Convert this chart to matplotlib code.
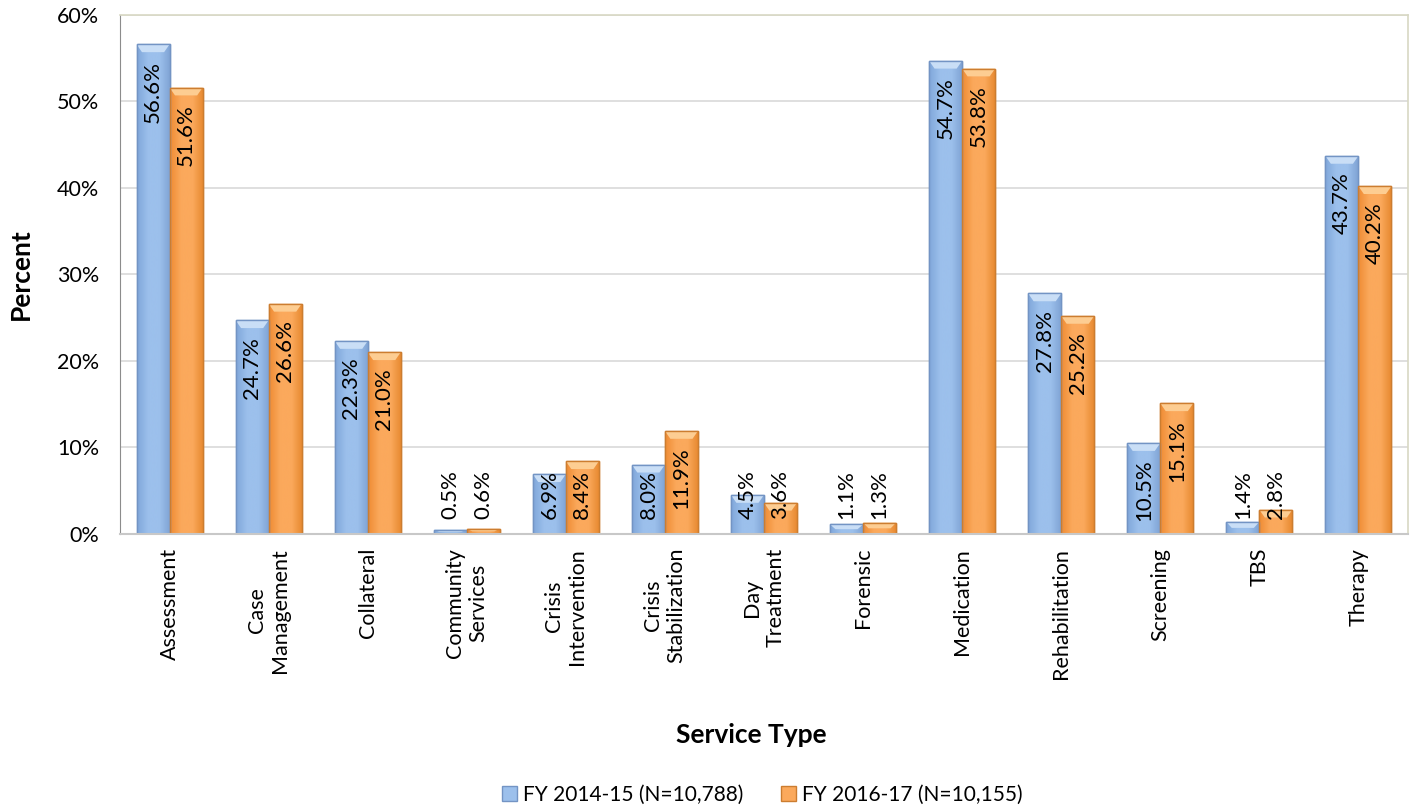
import numpy as np
import matplotlib
matplotlib.use("Agg")
import matplotlib.pyplot as plt
from matplotlib.colors import LinearSegmentedColormap
from matplotlib.patches import Polygon, Patch

plt.rcParams['font.family'] = ['Lato', 'DejaVu Sans']

# service usage by type, two fiscal years
categories = ['Assessment', 'Case\nManagement', 'Collateral', 'Community\nServices',
              'Crisis\nIntervention', 'Crisis\nStabilization', 'Day\nTreatment',
              'Forensic', 'Medication', 'Rehabilitation', 'Screening', 'TBS', 'Therapy']
fy1415 = [56.6, 24.7, 22.3, 0.5, 6.9, 8.0, 4.5, 1.1, 54.7, 27.8, 10.5, 1.4, 43.7]
fy1617 = [51.6, 26.6, 21.0, 0.6, 8.4, 11.9, 3.6, 1.3, 53.8, 25.2, 15.1, 2.8, 40.2]
series_names = ['FY 2014-15 (N=10,788)', 'FY 2016-17 (N=10,155)']
yticks = [0, 10, 20, 30, 40, 50, 60]

# colours: (left edge, centre, right edge, outline, bevel)
blue = ('#80a7da', '#9cc0ec', '#7ea2d3', '#7394c4', '#c9def6')
orange = ('#ef8c34', '#fba95c', '#e6882e', '#cc7d30', '#fdcd92')

fig = plt.figure(figsize=(14.17, 8.09), dpi=100)
ax = fig.add_axes([0.0847, 0.34, 0.9089, 0.6415])

width = 1 / 3
x = np.arange(len(categories))


def fancy_bars(xs, vals, style):
    cmap = LinearSegmentedColormap.from_list('g', [style[0], style[1], style[1], style[2]])
    grad = np.linspace(0, 1, 64).reshape(1, -1)
    bars = ax.bar(xs, vals, width, facecolor=style[1], edgecolor=style[3],
                  linewidth=1, zorder=2)
    for b, v in zip(bars, vals):
        x0 = b.get_x()
        x1 = x0 + b.get_width()
        im = ax.imshow(grad, extent=[x0, x1, 0, v], aspect='auto', cmap=cmap,
                       zorder=2.1, interpolation='bicubic')
        im.set_clip_path(b)
        # bevelled top
        h = min(0.9, v * 0.5)
        inset = 0.055
        bevel = Polygon([[x0, v], [x1, v], [x1 - inset, v - h], [x0 + inset, v - h]],
                        closed=True, facecolor=style[4], edgecolor='none', zorder=2.2)
        ax.add_patch(bevel)
        ax.add_patch(Polygon([[x0, 0], [x1, 0], [x1, v], [x0, v]], closed=True,
                             facecolor='none', edgecolor=style[3], lw=1, zorder=2.3))
    return bars


fancy_bars(x - width / 2, fy1415, blue)
fancy_bars(x + width / 2, fy1617, orange)

# value labels, rotated, sitting just below the bar top
for xs, vals in ((x - width / 2, fy1415), (x + width / 2, fy1617)):
    for xi, v in zip(xs, vals):
        ytop = max(v - 1.9, 7.4)
        ax.text(xi, ytop, f'{v:.1f}%', rotation=90, ha='center', va='top',
                fontsize=16, color='black', zorder=5)

ax.set_xlim(-0.5, len(categories) - 0.5)
ax.set_ylim(0, 60)
ax.set_yticks(yticks)
ax.set_yticklabels([f'{t}%' for t in yticks], fontsize=15.5)
ax.set_xticks(x)
ax.set_xticklabels(categories, rotation=90, ha='center', va='top',
                   multialignment='center', fontsize=15.5)
ax.tick_params(axis='both', length=0)
ax.tick_params(axis='x', pad=10)
ax.tick_params(axis='y', pad=15)

ax.yaxis.grid(True, color='#d9d9d9', lw=1.2, zorder=0)
ax.set_axisbelow(True)
for s in ('top', 'right'):
    ax.spines[s].set_color('#d8d8c4')
    ax.spines[s].set_linewidth(1.2)
ax.spines['left'].set_color('#8c8c8c')
ax.spines['bottom'].set_color('#c8c8c8')
ax.spines['bottom'].set_linewidth(1.5)

fig.text(21 / 1417, 0.34 + 0.6415 / 2, 'Percent', rotation=90, ha='center', va='center',
         fontsize=19, fontweight='bold')
fig.text(0.53, 1 - 735 / 809, 'Service Type', ha='center', va='center',
         fontsize=19, fontweight='bold')

handles = [Patch(facecolor=blue[1], edgecolor=blue[3]),
           Patch(facecolor=orange[1], edgecolor=orange[3])]
fig.legend(handles, series_names, loc='center', bbox_to_anchor=(0.538, 1 - 795 / 809),
           ncol=2, frameon=False, fontsize=15, handlelength=0.7, handleheight=0.7,
           handletextpad=0.3, columnspacing=1.8)

fig.savefig('out.png', dpi=100)
